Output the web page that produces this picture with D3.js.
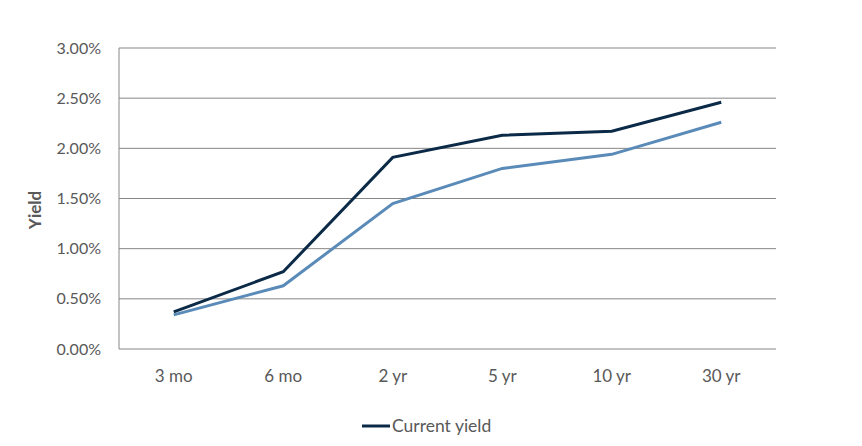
<!DOCTYPE html>
<html><head><meta charset="utf-8">
<script src="https://cdn.jsdelivr.net/npm/d3@7"></script>
<style>body{margin:0;background:#fff}svg{display:block}text{font-family:Lato,"Noto Sans",sans-serif;fill:#595959}</style>
</head><body><svg id="c" width="862" height="446"></svg>
<script>
const categories = ["3 mo","6 mo","2 yr","5 yr","10 yr","30 yr"];
const currentYield = [0.37, 0.77, 1.91, 2.13, 2.17, 2.46];
const priorYield = [0.34, 0.63, 1.45, 1.80, 1.94, 2.26];
const yTicks = [0, 0.5, 1.0, 1.5, 2.0, 2.5, 3.0];
const seriesNames = ["Current yield"];

const svg = d3.select("#c");
const m = {l:119, r:776, t:48, b:349};
const x = d3.scaleBand().domain(categories).range([m.l, m.r]);
const y = d3.scaleLinear().domain([0, 3]).range([m.b, m.t]);

svg.append("g").selectAll("line").data(yTicks).join("line")
  .attr("x1", m.l).attr("x2", m.r).attr("y1", d=>y(d)).attr("y2", d=>y(d))
  .attr("stroke", "#868686").attr("stroke-width", 1);
svg.append("line").attr("x1", m.l).attr("x2", m.l).attr("y1", m.t).attr("y2", m.b)
  .attr("stroke", "#868686");

svg.append("g").selectAll("text").data(yTicks).join("text")
  .attr("x", 101).attr("y", d=>y(d)).attr("dy", "0.35em").attr("text-anchor", "end")
  .attr("font-size", 16).text(d=>d3.format(".2f")(d)+"%");

svg.append("g").selectAll("text").data(categories).join("text")
  .attr("x", d=>x(d)+x.bandwidth()/2).attr("y", 376).attr("dy", "0.35em")
  .attr("text-anchor", "middle").attr("font-size", 17).text(d=>d);

svg.append("text").attr("transform", "translate(35,210) rotate(-90)")
  .attr("text-anchor", "middle").attr("dy", "0.35em").attr("font-size", 17)
  .attr("font-weight", "bold").text("Yield");

const line = d3.line().x((d,i)=>x(categories[i])+x.bandwidth()/2).y(d=>y(d));
svg.append("path").datum(priorYield).attr("d", line).attr("fill", "none")
  .attr("stroke", "#5a8bb8").attr("stroke-width", 3);
svg.append("path").datum(currentYield).attr("d", line).attr("fill", "none")
  .attr("stroke", "#0b2a47").attr("stroke-width", 3);

const lg = svg.append("g");
lg.append("line").attr("x1", 362).attr("x2", 390).attr("y1", 426).attr("y2", 426)
  .attr("stroke", "#0b2a47").attr("stroke-width", 3);
lg.append("text").attr("x", 392).attr("y", 426).attr("dy", "0.35em")
  .attr("font-size", 17.5).text(seriesNames[0]);
</script></body></html>
